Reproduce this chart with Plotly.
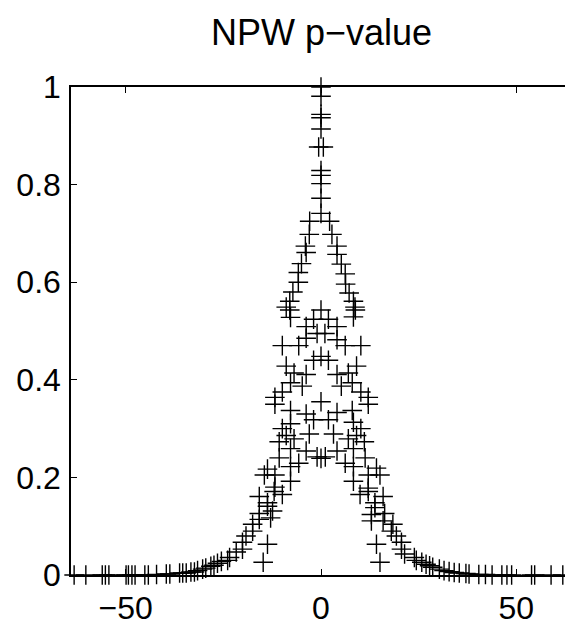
import plotly.graph_objects as go

# central spike at zero difference
spike_x = [0, 0, 0, 0, 0, -0.6, 0.6, 0, 0, 0, 0, 0]
spike_p = [1.0, 0.981, 0.944, 0.937, 0.914, 0.877, 0.877, 0.829, 0.819, 0.802, 0.772, 0.741]

# outer cone (continuation of the spike)
outer_x = [-2.9, -3.0, -4.0, -3.8, -5.0, -5.8, -5.8, -7.2, -8.0, -8.9, -8.0, -7.8,
           2.2, 2.8, 4.1, 4.1, 5.2, 6.2, 6.3, 7.2, 8.3, 8.7, 8.8, 8.3]
outer_p = [0.725, 0.698, 0.674, 0.661, 0.638, 0.620, 0.600, 0.580, 0.561, 0.549, 0.543, 0.528,
           0.725, 0.698, 0.674, 0.657, 0.637, 0.617, 0.596, 0.578, 0.561, 0.549, 0.543, 0.529]

# inner lattice of points
inner_x = [0, -1.9, 1.9, -3.8, 4.1, -1.0, 1.0, -3.8, 4.1,
           -9.9, -5.7, 6.2, 10.2, 0, -1.9, 1.9, -8.9, 9.1,
           -6.9, -3.8, 4.1, 7.0, -7.8, -4.8, 5.2, 8.0,
           -9.9, 10.2, -11.8, 12.1, -11.8, 12.1, 0,
           -7.8, -3.8, 4.1, 8.0, -1.9, 1.9, -7.8, 8.3,
           -9.9, 10.2, -3.0, 3.2, -8.9, 9.1, -6.9, 7.0,
           -10.7, 11.1, -7.8, 8.3, -3.8, 4.1, -1.0, 0, 1.1,
           -10.7, 11.3, -5.7, 6.2, -7.8, 8.3, -13.7, 14.2,
           -14.5, -11.8, 12.1, 15.1, -7.8, 8.3, -11.8, 12.1,
           -12.0, 12.1, -9.9, 10.0, -15.8, 15.9, -13.7, 13.8,
           -13.7, 13.8, -12.4, 12.9, -15.8, 16.3, -15.8, 15.9,
           -12.9, 12.9, -17.5, 18.4, -17.5, 18.0, -19.2, 19.3,
           -13.7, 14.2, -20.1, 20.6, -20.1, 20.6, -21.7, 21.4,
           -23.4, 23.9, -23.9, 24.4, -14.8, 15.1]
inner_p = [0.543, 0.524, 0.524, 0.509, 0.509, 0.495, 0.495, 0.485, 0.482,
           0.470, 0.470, 0.470, 0.470, 0.448, 0.440, 0.440, 0.428, 0.428,
           0.414, 0.411, 0.411, 0.414, 0.394, 0.387, 0.387, 0.394,
           0.375, 0.375, 0.364, 0.364, 0.350, 0.350, 0.355,
           0.337, 0.330, 0.333, 0.337, 0.318, 0.318, 0.310, 0.313,
           0.300, 0.300, 0.289, 0.289, 0.286, 0.286, 0.279, 0.279,
           0.273, 0.273, 0.259, 0.259, 0.254, 0.254, 0.242, 0.239, 0.242,
           0.240, 0.240, 0.229, 0.229, 0.222, 0.222, 0.217, 0.219,
           0.205, 0.205, 0.205, 0.205, 0.192, 0.192, 0.180, 0.178,
           0.171, 0.171, 0.165, 0.165, 0.161, 0.161, 0.148, 0.148,
           0.141, 0.138, 0.131, 0.124, 0.126, 0.126, 0.114, 0.111,
           0.117, 0.111, 0.104, 0.104, 0.090, 0.090, 0.080, 0.080,
           0.063, 0.063, 0.067, 0.067, 0.053, 0.053, 0.047, 0.043,
           0.036, 0.036, 0.030, 0.030, 0.026, 0.026]

# tails near zero
tail_x = [-63.2, -60.2, -56.0, -55.2, -54.3, -49.9, -49.3, -48.4, -47.6, -45.1, -44.2,
          -42.1, -39.6, -38.7, -36.2, -35.4, -34.5, -33.3, -32.4, -31.6, -30.3, -29.5,
          -28.2, -27.4, -26.5, -25.5,
          25.8, 26.9, 27.8, 28.6, 30.3, 31.5, 32.8, 34.1, 35.4, 37.1, 37.9, 40.4, 42.1,
          43.8, 46.3, 47.6, 48.8, 53.9, 54.7, 58.9, 61.9]
tail_p = [0.0, 0.0, 0.0, 0.0, 0.0, 0.0, 0.0, 0.0, 0.0, 0.0, 0.0,
          0.001, 0.002, 0.002, 0.004, 0.004, 0.004, 0.006, 0.006, 0.009, 0.012, 0.014,
          0.018, 0.020, 0.024, 0.028,
          0.026, 0.022, 0.019, 0.016, 0.012, 0.009, 0.007, 0.005, 0.004, 0.003, 0.002, 0.001, 0.001,
          0.0, 0.0, 0.0, 0.0, 0.0, 0.0, 0.0, 0.0]

TITLE = "NPW p\u2212value"
FONT = "Liberation Sans, Arial, Helvetica, sans-serif"
marker = dict(symbol="cross-thin-open", size=14, color="black",
              line=dict(color="black", width=1.4))

fig = go.Figure()
for xs, ps in [(spike_x, spike_p), (outer_x, outer_p), (inner_x, inner_p), (tail_x, tail_p)]:
    fig.add_trace(go.Scatter(x=xs, y=ps, mode="markers", marker=marker,
                             showlegend=False, cliponaxis=False))

axis_common = dict(showline=True, mirror="ticks", linecolor="black", linewidth=1.5,
                   ticks="inside", ticklen=6, tickcolor="black", tickwidth=1,
                   showgrid=False, zeroline=False,
                   tickfont=dict(family=FONT, size=32, color="black"))

fig.update_layout(
    width=573, height=626,
    margin=dict(l=63, r=8, t=79, b=53),
    paper_bgcolor="white", plot_bgcolor="white",
    xaxis=dict(range=[-64, 64], tickvals=[-50, 0, 50], ticktext=["\u221250", "0", "50"],
               ticklabelstandoff=4, **axis_common),
    yaxis=dict(range=[0, 1], tickvals=[0, 0.2, 0.4, 0.6, 0.8, 1],
               ticktext=["0", "0.2", "0.4", "0.6", "0.8", "1"],
               ticklabelstandoff=2, **axis_common),
    annotations=[dict(text=TITLE, x=0.5, y=1, xref="paper", yref="paper",
                      xanchor="center", yanchor="bottom", yshift=32, showarrow=False,
                      font=dict(family=FONT, size=36, color="black"))],
)

fig.write_html("out.html")
